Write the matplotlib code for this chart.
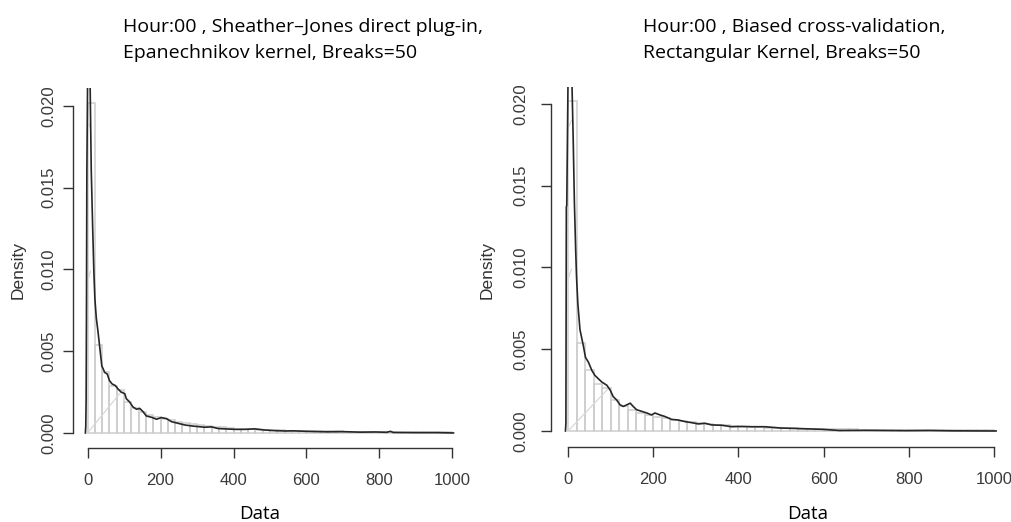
import matplotlib
matplotlib.use("Agg")
import matplotlib.pyplot as plt

# histogram (same data in both panels), breaks of width 20
bin_edges = list(range(0, 1001, 20))
hist_density = [0.0202, 0.0054, 0.0037, 0.0029, 0.0026, 0.0019, 0.0015, 0.0013, 0.0011, 0.0010,
                0.00088, 0.00080, 0.00070, 0.00062, 0.00055, 0.00048, 0.00042, 0.00038, 0.00034, 0.00030,
                0.00027, 0.00025, 0.00023, 0.00021, 0.00019, 0.00017, 0.00016, 0.00015, 0.00014, 0.00013,
                0.00012, 0.00011, 0.00010, 0.00010, 0.00009, 0.00008, 0.00008, 0.00007, 0.00007, 0.00006,
                0.00006, 0.00006, 0.00005, 0.00005, 0.00004, 0.00004, 0.00004, 0.00003, 0.00003, 0.00003]

# Sheather-Jones / Epanechnikov density
sj_x = [-6, -5, -4, -3, -2, 0, 4, 7, 10, 14, 17, 20, 24, 28, 33, 39, 47, 54, 60, 67, 76, 83, 92, 102,
        106, 115, 124, 134, 143, 152, 161, 175, 189, 202, 216, 230, 248, 266, 285, 303, 321, 340, 358,
        376, 404, 431, 459, 486, 514, 541, 564, 600, 656, 700, 747, 790, 820, 830, 838, 900, 960, 1003]
sj_y = [0.0, 0.0004, 0.0020, 0.0080, 0.0160, 0.0215, 0.0215, 0.0212, 0.0161, 0.0125, 0.0100, 0.0082,
        0.0070, 0.0063, 0.0053, 0.0041, 0.0037, 0.0036, 0.0032, 0.0030, 0.0029, 0.0027, 0.0025, 0.0024,
        0.0021, 0.0019, 0.0016, 0.00145, 0.0015, 0.0013, 0.00104, 0.00096, 0.00084, 0.00094, 0.00088,
        0.00069, 0.00059, 0.00049, 0.00043, 0.00039, 0.00035, 0.00037, 0.00027, 0.00025, 0.00022,
        0.00022, 0.00025, 0.00018, 0.00014, 0.00012, 0.00013, 0.00010, 0.00007, 0.00008, 0.00005,
        0.00006, 0.00004, 0.0001, 0.00003, 0.00002, 0.00002, 0.0]

# Biased cross-validation / rectangular density
bcv_x = [-6, -5, -4, -3, 0, 3, 6, 9, 12, 15, 18, 20, 23, 28, 36, 41, 48, 56, 63, 71, 79, 91, 99, 106,
         114, 122, 130, 138, 146, 153, 161, 173, 185, 196, 204, 216, 228, 243, 259, 275, 290, 306, 322,
         337, 361, 384, 408, 431, 462, 500, 540, 598, 637, 700, 793, 850, 900, 1005]
bcv_y = [0.0, 0.0005, 0.0137, 0.0138, 0.0215, 0.0215, 0.0212, 0.0215, 0.0180, 0.0139, 0.0110, 0.0094,
         0.0078, 0.0062, 0.0052, 0.0045, 0.0042, 0.0037, 0.0034, 0.0032, 0.0030, 0.0028, 0.0025, 0.0021,
         0.0019, 0.0016, 0.0015, 0.0016, 0.0017, 0.0015, 0.0013, 0.0012, 0.0011, 0.00098, 0.0011,
         0.00098, 0.00088, 0.00071, 0.00067, 0.00057, 0.00051, 0.00043, 0.00047, 0.00037, 0.00035,
         0.00026, 0.00028, 0.00026, 0.00026, 0.00018, 0.00015, 0.00010, 0.00003, 0.00004, 0.00002,
         0.00003, 0.00001, 0.0]

# faint grey line pieces seen through the histogram
grey_x = [0, 95]
grey_y = [0.0, 0.0026]
grey2_x = [0, 8]
grey2_y = [0.0093, 0.0099]
grey3_x = [0, 8]
grey3_y = [0.0185, 0.0190]

x_ticks = [0, 200, 400, 600, 800, 1000]
y_ticks = [0.000, 0.005, 0.010, 0.015, 0.020]

titles = [("Hour:00 , Sheather\u2013Jones direct plug-in,", "Epanechnikov kernel, Breaks=50"),
          ("Hour:00 , Biased cross-validation,", "Rectangular Kernel, Breaks=50")]

W, H = 1012, 522
fig = plt.figure(figsize=(W / 100, H / 100), dpi=100)

tick_font = ["Liberation Sans", "DejaVu Sans"]
label_font = ["Open Sans", "DejaVu Sans"]

# axes boxes in pixels: left, right, top, bottom, y-limits
panels = [
    dict(l=73, r=467, t=88, b=448, ylim=(-0.00092, 0.0211), dens=(sj_x, sj_y),
         title_x=123, ylab_x=18, data_x=260),
    dict(l=551, r=1011, t=87, b=447, ylim=(-0.00098, 0.02104), dens=(bcv_x, bcv_y),
         title_x=643, ylab_x=487, data_x=808),
]

for i, p in enumerate(panels):
    ax = fig.add_axes([p["l"] / W, 1 - p["b"] / H, (p["r"] - p["l"]) / W, (p["b"] - p["t"]) / H])
    ax.set_xlim(-40, 1040)
    ax.set_ylim(*p["ylim"])

    ax.hist(bin_edges[:-1], bins=bin_edges, weights=hist_density, histtype="bar",
            facecolor="none", edgecolor="#cdcdcd", linewidth=1.1)
    ax.plot(grey_x, grey_y, color="#d8d8d8", lw=0.9)
    ax.plot(grey2_x, grey2_y, color="#d8d8d8", lw=0.9)
    ax.plot(grey3_x, grey3_y, color="#d8d8d8", lw=0.9)
    ax.plot(p["dens"][0], p["dens"][1], color="#262626", lw=1.2, drawstyle="default")

    for s in ["top", "right"]:
        ax.spines[s].set_visible(False)
    ax.spines["left"].set_bounds(0, 0.020)
    ax.spines["bottom"].set_bounds(0, 1000)
    for s in ["left", "bottom"]:
        ax.spines[s].set_color("#333333")
        ax.spines[s].set_linewidth(1.0)

    ax.set_xticks(x_ticks)
    ax.set_xticklabels([str(v) for v in x_ticks], family=tick_font, fontsize=12, color="#3a3a3a")
    ax.set_yticks(y_ticks)
    ax.set_yticklabels(["%.3f" % v for v in y_ticks], family=tick_font, fontsize=12,
                       color="#3a3a3a", rotation=90, va="center")
    ax.tick_params(axis="x", length=7, width=1.0, color="#333333", pad=11)
    ax.tick_params(axis="y", length=7, width=1.0, color="#333333", pad=5 if i == 0 else 9)

    fig.text(p["title_x"] / W, 1 - 32 / H, titles[i][0], family=label_font, fontsize=14,
             ha="left", va="baseline", color="#000000")
    fig.text(p["title_x"] / W, 1 - 58 / H, titles[i][1], family=label_font, fontsize=14,
             ha="left", va="baseline", color="#000000")
    fig.text(p["ylab_x"] / W, 1 - 270 / H, "Density", family=tick_font, fontsize=12.5,
             rotation=90, ha="center", va="center", color="#333333")
    fig.text(p["data_x"] / W, 1 - 514 / H, "Data", family=label_font, fontsize=13.5,
             ha="center", va="center", color="#000000")

fig.savefig("out.png", dpi=100)
